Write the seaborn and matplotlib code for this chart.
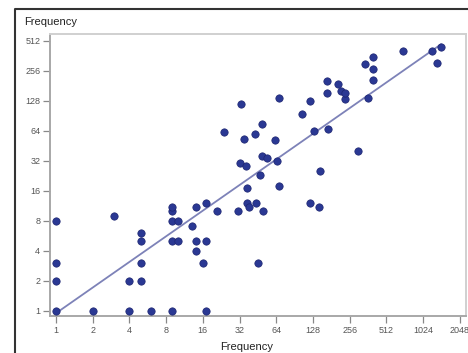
import numpy as np
import pandas as pd
import matplotlib
matplotlib.use("Agg")
import matplotlib.pyplot as plt
from matplotlib.lines import Line2D
from matplotlib.ticker import FixedLocator, FixedFormatter, NullLocator
import seaborn as sns

# Data (x frequency, y frequency)
x_freq = [1, 1, 1, 1, 2, 3, 4, 4, 5, 5, 5, 5, 6,
          9, 9, 9, 9, 9, 10, 10,
          13, 14, 14, 14, 16, 17, 17, 17,
          21, 24, 31, 32, 33, 35, 36, 37, 37, 38, 43, 44, 45, 47, 49, 49, 50, 54,
          63, 65, 68, 68,
          105, 121, 121, 131, 144, 146, 166, 166, 171, 204, 218, 235, 235,
          302, 342, 364, 396, 401, 401, 698, 1207, 1342, 1439]
y_freq = [1, 2, 3, 8, 1, 9, 1, 2, 2, 3, 5, 6, 1,
          1, 5, 8, 10, 11, 5, 8,
          7, 4, 5, 11, 3, 1, 5, 12,
          10, 62, 10, 30, 118, 53, 28, 12, 17, 11, 59, 12, 3, 23, 36, 74, 10, 34,
          52, 32, 18, 137,
          93, 12, 128, 64, 11, 25, 154, 202, 67, 188, 160, 133, 154,
          40, 297, 135, 354, 267, 206, 406, 406, 304, 439]
tick_values = [1, 2, 4, 8, 16, 32, 64, 128, 256, 512, 1024, 2048]
ytick_values = [1, 2, 4, 8, 16, 32, 64, 128, 256, 512]
x_label = "Frequency"
y_label = "Frequency"

df = pd.DataFrame({"x": x_freq, "y": y_freq})

# straight fit in log2 space
lx = np.log2(df["x"].values)
ly = np.log2(df["y"].values)
coef = np.polyfit(lx, ly, 1)
gx = np.linspace(lx.min(), lx.max(), 200)
fit = pd.DataFrame({"x": 2 ** gx, "y": 2 ** np.polyval(coef, gx)})

sns.set_theme(style="white")
plt.rcParams["font.family"] = ["Liberation Sans", "DejaVu Sans"]

fig = plt.figure(figsize=(4.68, 3.53), dpi=100)
ax = fig.add_axes([50 / 468, 1 - 316 / 353, 416 / 468, (316 - 34) / 353])

dot_color = "#2a3893"
line_color = "#7d82b8"

sns.lineplot(data=fit, x="x", y="y", ax=ax, color=line_color, linewidth=1.3, zorder=2)
sns.scatterplot(data=df, x="x", y="y", ax=ax, color=dot_color, s=28,
                edgecolor="#1c2470", linewidth=0.5, zorder=3)

ax.set_xscale("log", base=2)
ax.set_yscale("log", base=2)
ax.set_xlim(2 ** -0.163, 2 ** 11.17)
ax.set_ylim(2 ** -0.177, 2 ** 9.22)

ax.xaxis.set_major_locator(FixedLocator(tick_values))
ax.xaxis.set_major_formatter(FixedFormatter([str(v) for v in tick_values]))
ax.yaxis.set_major_locator(FixedLocator(ytick_values))
ax.yaxis.set_major_formatter(FixedFormatter([str(v) for v in ytick_values]))
ax.xaxis.set_minor_locator(NullLocator())
ax.yaxis.set_minor_locator(NullLocator())

ax.tick_params(axis="both", which="major", direction="out", length=5, width=0.9,
               color="#888888", labelsize=6.5, labelcolor="#555555", pad=2,
               bottom=True, left=True)

for side in ["left", "bottom"]:
    ax.spines[side].set_color("#a8a8a8")
    ax.spines[side].set_linewidth(1.4)
for side in ["top", "right"]:
    ax.spines[side].set_color("#d0d0d0")
    ax.spines[side].set_linewidth(1.4)

ax.set_xlabel("")
ax.set_ylabel("")
fig.text(247 / 468, 1 - 347 / 353, x_label, ha="center", va="center",
         fontsize=8, color="#222222")
fig.text(24 / 468, 1 - 22 / 353, y_label, ha="left", va="center",
         fontsize=8, color="#222222")

# outer frame lines
fig.add_artist(Line2D([15 / 468, 15 / 468, 1.0], [0.0, 1 - 9 / 353, 1 - 9 / 353],
                      transform=fig.transFigure, color="#333333", linewidth=1.5))

fig.savefig("out.png", dpi=100)
